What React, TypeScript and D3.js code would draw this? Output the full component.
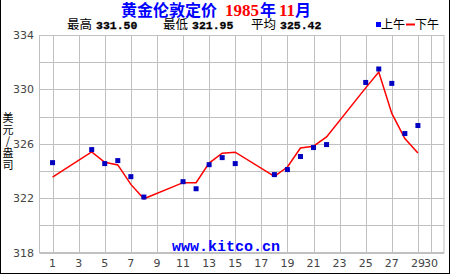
import React from "react";
import * as d3 from "d3";

const amDays = [1, 4, 5, 6, 7, 8, 11, 12, 13, 14, 15, 18, 19, 20, 21, 22, 25, 26, 27, 28, 29];
const amValues = [324.61, 325.57, 324.54, 324.76, 323.58, 322.08, 323.21, 322.69, 324.46, 324.98, 324.54, 323.73, 324.1, 325.06, 325.72, 325.94, 330.51, 331.5, 330.44, 326.75, 327.34];
const pmDays = [1, 4, 5, 6, 7, 8, 11, 12, 13, 14, 15, 18, 19, 20, 21, 22, 25, 26, 27, 28, 29];
const pmValues = [323.55, 325.4, 324.64, 324.44, 323.01, 321.95, 323.14, 323.14, 324.58, 325.3, 325.38, 323.6, 324.29, 325.69, 325.82, 326.5, 330.11, 331.27, 328.23, 326.38, 325.32];
const xTicks = [1, 3, 5, 7, 9, 11, 13, 15, 17, 19, 21, 23, 25, 27, 29, 30];
const yTicks = [318, 322, 326, 330, 334];
const yGrid = [318, 320, 322, 324, 326, 328, 330, 332, 334];
const statLabels = ["最高", "最低", "平均"];
const statValues = ["331.50", "321.95", "325.42"];
const yTitleChars = ["美", "元", "/", "盎", "司"];
const titleParts = ["黄金伦敦定价", "1985", "年", "11", "月"];

const CJK = "'Noto Sans CJK SC', sans-serif";
const MONO = "'Liberation Mono', monospace";
const SANS = "'DejaVu Sans', 'Liberation Sans', sans-serif";
const SERIF = "'Liberation Serif', serif";

export default function App() {
  const left = 39.5, right = 444, top = 35, bottom = 252.5;
  const x = d3.scaleLinear().domain([0, 31]).range([left, right]);
  const y = d3.scaleLinear().domain([318, 334]).range([bottom, top]);
  const line = d3
    .line<number>()
    .x((_, i) => x(pmDays[i]))
    .y((d) => y(d));
  const statX = [67, 163, 251];
  const titleX = [121, 225, 260, 279, 295];
  return (
    <svg
      width={450}
      height={275}
      style={{ position: "absolute", left: 0, top: 0, background: "#fff" }}
    >
      <rect x={0} y={0} width={450} height={275} fill="#fff" />
      {/* outer frame */}
      <line x1={0.5} y1={0} x2={0.5} y2={274} stroke="#000" />
      <line x1={449.5} y1={0} x2={449.5} y2={274} stroke="#000" />
      <line x1={0} y1={273.5} x2={450} y2={273.5} stroke="#000" />

      {/* title */}
      <text y={16} fontSize={16} fontWeight="bold" fontFamily={CJK}>
        {titleParts.map((t, i) => {
          const digits = i === 1 || i === 3;
          return (
            <tspan
              key={"t" + i}
              x={titleX[i]}
              fontFamily={digits ? SERIF : CJK}
              fontSize={digits ? 17 : 16}
              fill={digits ? "#ff0000" : "#0000ff"}
            >
              {t}
            </tspan>
          );
        })}
      </text>

      {/* stats */}
      {statLabels.map((s, i) => (
        <g key={s}>
          <text x={statX[i]} y={29} fontFamily={CJK} fontSize={12.5} fill="#000">
            {s}
          </text>
          <text x={statX[i] + 29} y={29} fontFamily={MONO} fontSize={11.5} fontWeight="bold" fill="#000" stroke="#000" strokeWidth={0.3}>
            {statValues[i]}
          </text>
        </g>
      ))}

      {/* legend */}
      <rect x={376} y={22} width={5} height={5} fill="#0000ff" />
      <text x={381} y={29} fontFamily={CJK} fontSize={12} fill="#000">上午</text>
      <rect x={406} y={23.5} width={9} height={2} fill="#ff0000" />
      <text x={415} y={29} fontFamily={CJK} fontSize={12} fill="#000">下午</text>

      {/* grid */}
      {yGrid.map((v) => (
        <line key={"h" + v} x1={left} x2={right} y1={Math.round(y(v)) + 0.5} y2={Math.round(y(v)) + 0.5} stroke="#c0c0c0" />
      ))}
      {xTicks.map((d) => (
        <line key={"v" + d} x1={Math.round(x(d)) + 0.5} x2={Math.round(x(d)) + 0.5} y1={top} y2={bottom} stroke="#c0c0c0" />
      ))}
      <rect x={left} y={top + 0.5} width={right - left} height={bottom - top - 0.5} fill="none" stroke="#c0c0c0" />

      {/* y ticks */}
      {yTicks.map((v) => (
        <text key={"yt" + v} x={34} y={y(v) + 4} textAnchor="end" fontFamily={SANS} fontSize={11} fill="#444">
          {v}
        </text>
      ))}
      {/* x ticks */}
      {xTicks.map((d) => (
        <text key={"xt" + d} x={x(d)} y={267} textAnchor="middle" fontFamily={SANS} fontSize={11} fill="#444">
          {d}
        </text>
      ))}

      {/* y title */}
      <text fontFamily={CJK} fontSize={11} fill="#000" textAnchor="middle">
        {yTitleChars.map((c, i) => (
          <tspan key={"yc" + i} x={8} y={122 + i * 11.7}>
            {c}
          </tspan>
        ))}
      </text>

      {/* watermark */}
      <text x={172} y={251} fontFamily={MONO} fontSize={15} fontWeight="bold" fill="#0000ff">
        www.kitco.cn
      </text>

      {/* PM line */}
      <path d={line(pmValues) || ""} fill="none" stroke="#ff0000" strokeWidth={1.5} />
      {/* AM squares */}
      {amValues.map((v, i) => (
        <rect key={"am" + i} x={x(amDays[i]) - 2.5} y={y(v) - 2.5} width={5} height={5} fill="#0000c0" />
      ))}
    </svg>
  );
}
